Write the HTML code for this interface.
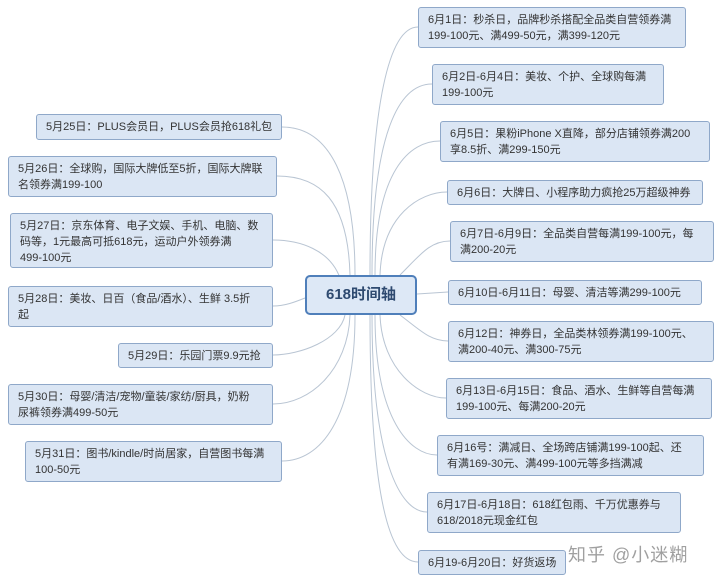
<!DOCTYPE html>
<html><head><meta charset="utf-8"><style>
body{margin:0;width:720px;height:584px;background:#fff;position:relative;overflow:hidden;font-family:"Liberation Sans","Noto Sans CJK SC",sans-serif}
.b{position:absolute;box-sizing:border-box;background:#dbe6f4;border:1px solid #8fa8c9;border-radius:3px;font-size:11px;line-height:16px;color:#333;padding:4px 9px;white-space:nowrap;overflow:hidden}
.c{position:absolute;left:305px;top:275px;width:112px;height:40px;box-sizing:border-box;background:#dde8f6;border:2px solid #4f7fba;border-radius:5px;font-weight:bold;font-size:15px;color:#2e4a70;text-align:center;line-height:36px}
svg{position:absolute;left:0;top:0}
.w{position:absolute;left:568px;top:541px;font-size:18px;color:#a0a0a0;letter-spacing:1px}
</style></head><body>
<svg width="720" height="584" fill="none" stroke="#b9c5d3" stroke-width="1">
<path d="M355,275 C355,180 330,127 282,127"/>
<path d="M350,275 C348,200 320,176 277,176"/>
<path d="M340,278 C330,250 300,240 273,240"/>
<path d="M305,298 C295,302 285,306 273,306"/>
<path d="M345,315 C340,340 300,355 273,355"/>
<path d="M350,315 C348,370 310,404 273,404"/>
<path d="M355,315 C355,420 320,461 282,461"/>
<path d="M370,275 C370,100 390,27 418,27"/>
<path d="M372,275 C372,130 400,84 432,84"/>
<path d="M375,275 C375,170 410,141 440,141"/>
<path d="M380,275 C382,215 420,192 447,192"/>
<path d="M400,275 C420,255 430,241 450,241"/>
<path d="M417,294 L448,292"/>
<path d="M400,315 C420,330 430,341 448,341"/>
<path d="M380,315 C382,370 420,398 446,398"/>
<path d="M375,315 C375,420 410,455 437,455"/>
<path d="M372,315 C372,460 400,512 427,512"/>
<path d="M370,315 C370,500 390,562 418,562"/>
</svg>
<div class="c">618时间轴</div>
<div class="b" style="left:36px;top:114px;width:246px;height:26px">5月25日：PLUS会员日，PLUS会员抢618礼包</div>
<div class="b" style="left:8px;top:156px;width:269px;height:41px">5月26日：全球购，国际大牌低至5折，国际大牌联<br>名领券满199-100</div>
<div class="b" style="left:10px;top:213px;width:263px;height:55px">5月27日：京东体育、电子文娱、手机、电脑、数<br>码等，1元最高可抵618元，运动户外领券满<br>499-100元</div>
<div class="b" style="left:8px;top:286px;width:265px;height:41px">5月28日：美妆、日百（食品/酒水）、生鲜 3.5折<br>起</div>
<div class="b" style="left:118px;top:343px;width:155px;height:25px">5月29日：乐园门票9.9元抢</div>
<div class="b" style="left:8px;top:384px;width:265px;height:41px">5月30日：母婴/清洁/宠物/童装/家纺/厨具，奶粉<br>尿裤领券满499-50元</div>
<div class="b" style="left:25px;top:441px;width:257px;height:41px">5月31日：图书/kindle/时尚居家，自营图书每满<br>100-50元</div>
<div class="b" style="left:418px;top:7px;width:268px;height:41px">6月1日：秒杀日，品牌秒杀搭配全品类自营领券满<br>199-100元、满499-50元，满399-120元</div>
<div class="b" style="left:432px;top:64px;width:232px;height:41px">6月2日-6月4日：美妆、个护、全球购每满<br>199-100元</div>
<div class="b" style="left:440px;top:121px;width:270px;height:41px">6月5日：果粉iPhone X直降，部分店铺领券满200<br>享8.5折、满299-150元</div>
<div class="b" style="left:447px;top:180px;width:256px;height:25px">6月6日：大牌日、小程序助力疯抢25万超级神券</div>
<div class="b" style="left:450px;top:221px;width:264px;height:41px">6月7日-6月9日：全品类自营每满199-100元，每<br>满200-20元</div>
<div class="b" style="left:448px;top:280px;width:254px;height:25px">6月10日-6月11日：母婴、清洁等满299-100元</div>
<div class="b" style="left:448px;top:321px;width:266px;height:41px">6月12日：神券日，全品类林领券满199-100元、<br>满200-40元、满300-75元</div>
<div class="b" style="left:446px;top:378px;width:266px;height:41px">6月13日-6月15日：食品、酒水、生鲜等自营每满<br>199-100元、每满200-20元</div>
<div class="b" style="left:437px;top:435px;width:267px;height:41px">6月16号：满减日、全场跨店铺满199-100起、还<br>有满169-30元、满499-100元等多挡满减</div>
<div class="b" style="left:427px;top:492px;width:254px;height:41px">6月17日-6月18日：618红包雨、千万优惠券与<br>618/2018元现金红包</div>
<div class="b" style="left:418px;top:550px;width:148px;height:25px">6月19-6月20日：好货返场</div>
<div class="w">知乎 @小迷糊</div>
</body></html>
